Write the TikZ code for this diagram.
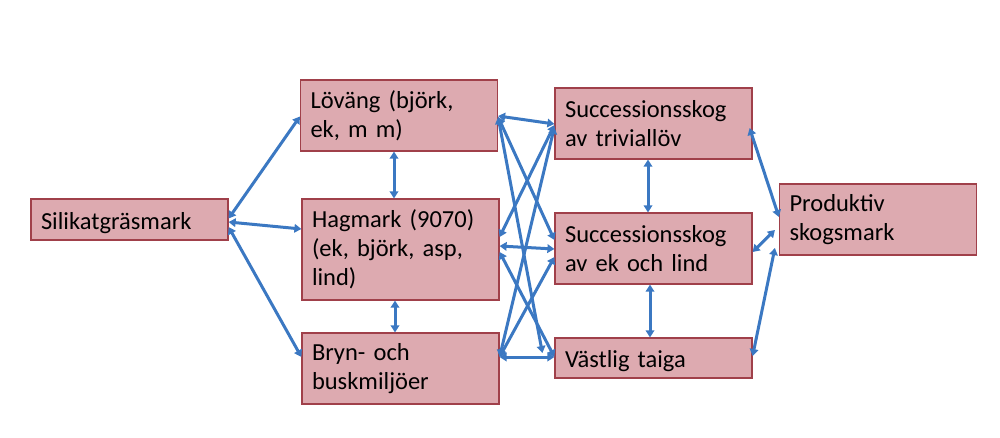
\documentclass[tikz,border=0pt]{standalone}
\usepackage{fontspec}
\setmainfont{Carlito}
\usetikzlibrary{arrows.meta,calc}
\definecolor{boxfill}{HTML}{DDAAB0}
\definecolor{boxline}{HTML}{A0404A}
\definecolor{arrowblue}{HTML}{3B78C2}
\tikzset{
  pbox/.style={draw=boxline, fill=boxfill, line width=1.2pt, rectangle,
    minimum width=197pt, text width=177pt, inner xsep=10pt, inner ysep=0pt,
    align=left, font=\fontsize{24.5pt}{28.8pt}\selectfont, text=black},
  link/.style={draw=arrowblue, line width=3pt,
    {Triangle[length=7pt,width=8.5pt]}-{Triangle[length=7pt,width=8.5pt]}}
}
\begin{document}
\begin{tikzpicture}[x=1pt,y=-1pt]
\useasboundingbox (0,0) rectangle (1000,437);
\node[pbox, minimum height=41pt] (S) at (129.5,219.5) {\raisebox{-4pt}[\height][\depth]{Silikatgräsmark}};
\node[pbox, minimum height=71pt] (L) at (399,115.5) {Löväng (björk,\\ek, m m)};
\node[pbox, minimum height=101pt] (H) at (400.5,249.5) {Hagmark (9070)\\(ek, björk, asp,\\lind)};
\node[pbox, minimum height=71pt] (B) at (400.5,368.5) {Bryn- och\\buskmiljöer};
\node[pbox, minimum height=71pt] (T) at (653.5,123.5) {Successionsskog\\av triviallöv};
\node[pbox, minimum height=71pt] (E) at (653.5,248.5) {Successionsskog\\av ek och lind};
\node[pbox, minimum height=40pt] (V) at (653.5,358) {\raisebox{-3pt}[\height][\depth]{Västlig taiga}};
\node[pbox, minimum height=71pt] (P) at (878,219.5) {Produktiv\\skogsmark};
% left fan
\draw[link] ([yshift=1pt]S.east) -- ([yshift=-1pt]L.west);
\draw[link] ([yshift=-2.5pt]S.east) -- ([yshift=20.5pt]H.west);
\draw[link] ([yshift=-7.5pt]S.east) -- ([yshift=11.5pt]B.west);
\draw[link] ([xshift=-5pt]L.south) -- ([xshift=-6.5pt]H.north);
\draw[link] ([xshift=-5.5pt]H.south) -- ([xshift=-5.5pt]B.north);
% middle web
\draw[link] ([yshift=-0.5pt]L.east) -- ([yshift=-0.5pt]T.west);
\draw[link] ([yshift=-1.5pt]L.east) -- ([yshift=8.5pt]E.west);
\draw[link] ([yshift=-1.5pt]L.east) -- ([xshift=-12pt,yshift=5pt]V.west);
\draw[link] ([yshift=12.5pt]H.east) -- ([yshift=-1.5pt]T.west);
\draw[link] ([yshift=3.5pt]H.east) -- ([yshift=-0.5pt]E.west);
\draw[link] ([yshift=-2.5pt]H.east) -- ([yshift=1pt]V.west);
\draw[link] ([yshift=11.5pt]B.east) -- ([yshift=-3.5pt]T.west);
\draw[link] ([yshift=11.5pt]B.east) -- ([yshift=-8.5pt]E.west);
\draw[link] ([yshift=11.5pt]B.east) -- ([yshift=1pt]V.west);
% right side
\draw[link] ([xshift=-5.5pt]T.south) -- ([xshift=-5.5pt]E.north);
\draw[link] ([xshift=-3.5pt]E.south) -- ([xshift=-3.5pt]V.north);
\draw[link] ([xshift=-3pt,yshift=-4.5pt]T.east) -- ([yshift=2.5pt]P.west);
\draw[link] ([yshift=-3.5pt]E.east) -- ([xshift=-4pt,yshift=-10.5pt]P.west);
\draw[link] ([yshift=2pt]V.east) -- ([xshift=-4pt,yshift=-28.5pt]P.west);
\end{tikzpicture}
\end{document}
